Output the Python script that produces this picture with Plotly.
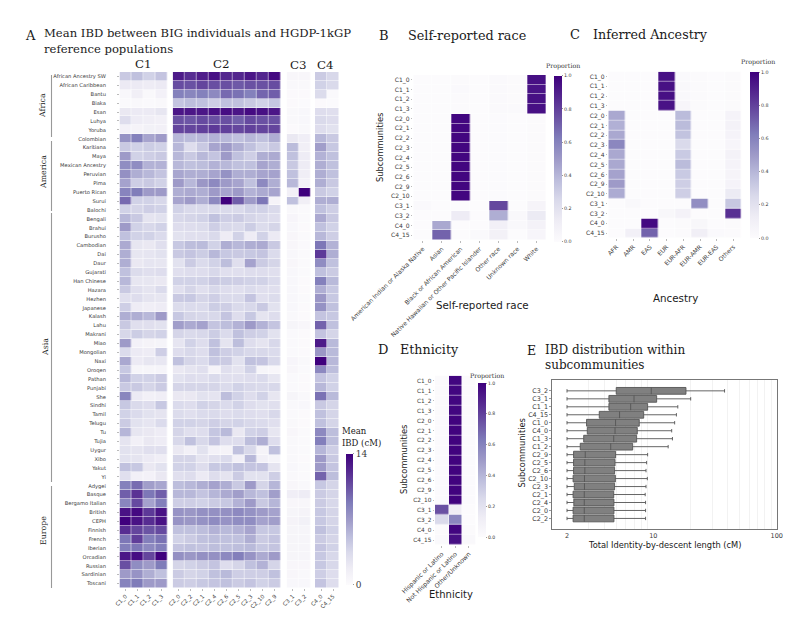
import plotly.graph_objects as go

W, H = 800, 625
SERIF = "DejaVu Serif"
SANS = "DejaVu Sans"
TXT = "#3a3a3a"

# panel A
populations = ["African Ancestry SW", "African Caribbean", "Bantu", "Biaka", "Esan", "Luhya", "Yoruba",
               "Colombian", "Karitiana", "Maya", "Mexican Ancestry", "Peruvian", "Pima", "Puerto Rican", "Surui",
               "Balochi", "Bengali", "Brahui", "Burusho", "Cambodian", "Dai", "Daur", "Gujarati", "Han Chinese",
               "Hazara", "Hezhen", "Japanese", "Kalash", "Lahu", "Makrani", "Miao", "Mongolian", "Naxi", "Oroqen",
               "Pathan", "Punjabi", "She", "Sindhi", "Tamil", "Telugu", "Tu", "Tujia", "Uygur", "Xibo", "Yakut", "Yi",
               "Adygei", "Basque", "Bergamo Italian", "British", "CEPH", "Finnish", "French", "Iberian", "Orcadian",
               "Russian", "Sardinian", "Toscani"]
c1_labels = ["C1_0", "C1_1", "C1_2", "C1_3"]
c2_labels = ["C2_0", "C2_2", "C2_1", "C2_4", "C2_6", "C2_5", "C2_3", "C2_10", "C2_9"]
c3_labels = ["C3_1", "C3_2"]
c4_labels = ["C4_0", "C4_15"]

c1_values = [
    [4.5, 5, 4, 4.8], [2, 2, 1.8, 2], [.5, 1.5, .4, 1.2], [.3, .4, .3, .4], [2.2, 2, 2, 2.4], [3.2, 1.8, 1.6, 1.4], [1.2, 1, 1.3, 1.4],
    [7.5, 8.5, 6.5, 7], [4.5, 4, 4.3, 4], [7, 4, 4.2, 4.5], [7.8, 7.8, 5.8, 5.8], [7.6, 6, 5.5, 4.8], [6.6, 4.2, 4.5, 4], [8.3, 8.7, 7, 7], [9.5, 4, 4, 3.6],
    [4, 3.8, 4.2, 4], [5.5, 4.5, 2.6, 2.8], [7, 4, 3.6, 4], [5, 4, 4, 3.4], [6.2, 2.4, 2.2, 3], [6, 2.4, 2.5, 2.8], [6, 2.2, 2.5, 2.4], [5, 3.3, 3, 3.2],
    [5.5, 2.4, 2.4, 2.2], [4.5, 3, 2.6, 3.4], [3, 3.2, 2.6, 2.4], [4.2, 1.8, 1.6, 1.8], [6, 6, 5.5, 7], [4.5, 3, 3, 2.8], [3.7, 4.3, 3.8, 4],
    [7, 1.2, 1, .9], [3.4, 2, 1.8, 4.2], [6.3, 2, 2.4, 2.3], [4.6, .8, .8, .9], [5.5, 4, 4, 4.4], [4.5, 4.5, 3.8, 4.4], [8.2, 2, 1.4, 1.6],
    [4.6, 3.5, 3.2, 4.6], [4, 3.4, 2.8, 2.6], [4.4, 2.8, 2.5, 3.4], [5.6, 2.4, 2.2, 1.8], [2.6, 1.4, 2.2, 1.8], [2.8, 2.6, 3, 3], [2.8, 2.6, 2, 1.6],
    [5, 4.6, 2.2, 2.8], [3, 1.4, 1.2, 2.2],
    [8.5, 9.4, 6.8, 6.4], [10, 11.8, 9, 10], [8.2, 10.8, 6.6, 8.6], [13.2, 13.6, 11.5, 13.2], [14, 13.2, 12, 13.2], [12, 11, 10.4, 10.8],
    [9, 11.3, 8.6, 9.2], [8.6, 9, 8, 8.6], [13, 13.4, 11, 14], [10.6, 7.8, 7, 8.8], [7, 7.4, 6, 5], [8.4, 8.8, 7, 7],
]
c2_values = [
    [12.8, 12, 12.7, 13.3, 12.3, 12.3, 13, 12.3, 13.6], [10.7, 10.5, 11, 10.6, 10.6, 10.2, 10.5, 10.5, 10.7],
    [8.5, 8.2, 8.5, 8, 9.5, 9.2, 8.5, 9.7, 10], [4.8, 5.2, 5, 4.2, 5, 5, 4.5, 4, 4.7],
    [13, 13, 13, 13.3, 13.4, 13, 13.5, 13.3, 13], [10.5, 10.3, 10.8, 10.5, 10.6, 9.9, 10.8, 10.5, 10.5],
    [11, 11, 11.2, 11.5, 11.2, 10.9, 11.2, 11, 11],
    [5.5, 5.3, 5.5, 5.8, 5.5, 5, 5.5, 5, 6], [5.5, 3.2, 4.5, 6.5, 7, 6, 5, 4, 4.5], [5.5, 4.5, 5.5, 4.8, 7, 5, 4.2, 6, 6.2],
    [5.5, 5, 5.2, 5.8, 5.5, 5, 5, 6.5, 6], [6.4, 6, 6, 6.5, 7.5, 6, 6, 6.5, 6.6], [7, 5.5, 7.2, 8, 7, 6.5, 5, 8, 6],
    [6, 6.2, 6, 7, 6.5, 7, 5.8, 6.2, 6.5], [6.5, 7, 6, 8, 14, 10, 7, 9, 1],
    [4, 3.5, 3.5, 3.5, 3.5, 3.5, 4, 4, 3.5], [3.6, 3.8, 4, 5, 4.2, 4.4, 3.8, 3.5, 3.2], [3.2, 3.2, 3.3, 4.2, 3.6, 3.5, 4.3, 3.3, 3.8],
    [2.8, 3, 3, 3.5, 1.8, 4, 1.8, 4, 2], [4.6, 5.2, 5.3, 4, 6, 5.5, 6, 6.2, 4.5], [4.5, 4.8, 4.3, 5.5, 4.6, 4.5, 4.6, 4.8, 3.4],
    [2.8, 4.4, 3.4, 4, 5.2, 3, 6.6, 4.4, 3.8], [3, 3.2, 3.2, 3.6, 3, 3, 3.2, 3.2, 3], [4, 4, 4, 4.5, 4.3, 4.2, 4, 4, 3.4],
    [3, 3.8, 3, 3.6, 3.2, 3, 3.4, 3, 3], [4.5, 4.6, 3.8, 4.2, 3.5, 3.5, 4.8, 3, 3.3], [3.3, 3.4, 3.4, 4.3, 4.2, 3.5, 3.6, 4.5, 2.8],
    [4.6, 3.8, 3.6, 3.6, 4.8, 3.2, 4.6, 2.6, 3.2], [6.8, 6.2, 6.6, 4.8, 5.2, 5.8, 7, 5.8, 4.8], [3.8, 3.5, 3.6, 4.3, 3.4, 5, 4.2, 4, 2.8],
    [2.5, 4, 3.2, 5, 2.6, 5.2, 3.2, 2.6, 3.6], [3.2, 3.6, 3.2, 5, 4.2, 4, 3.6, 3.6, 3.4], [5, 3.8, 3.4, 4.6, 4.4, 2.8, 5, 4.8, 3.6],
    [2.2, 2.6, 3, 1, 3, 2.6, 4, .8, .6], [2.8, 3.2, 3, 3.5, 3, 3, 3.2, 3.4, 2.4], [3.8, 3.8, 3.8, 3.8, 3.4, 4, 3.6, 3.5, 3.6],
    [2.2, 2.2, 2.8, 2.6, 5.2, 4, 3.2, 4, 2.4], [3.4, 3.2, 4, 3.8, 3.4, 4, 3.2, 2.8, 3], [3.3, 3, 3.4, 3.5, 3.2, 3.4, 3.2, 3, 3.6],
    [4, 4, 3.8, 4.2, 3.8, 4, 3.6, 3.4, 3], [3.8, 3, 3.2, 4.7, 5.4, 2.2, 4, 4.2, 2.4], [3.6, 5, 3.6, 4.8, 3.2, 3.2, 5.2, 6, 3.2],
    [2.2, 1.4, 2.8, 1.2, 1, 5, 3.6, 1, 5], [3.8, 3.8, 2.6, 3, 3.4, 1.4, 5.5, 1.4, .9], [4, 4, 3.2, 4.6, 4.6, 5, 4.8, 4.8, 2.6],
    [3, 3.2, 2, 3.2, 2.6, 4.4, 2.8, 2.8, 4.2],
    [5.2, 5.5, 6, 6.6, 6, 4.5, 7, 3.8, 5.6], [5.5, 5.5, 4.8, 5.6, 6.2, 6.8, 5.5, 5, 6.8], [4.2, 4.2, 4, 4.4, 4.6, 5.8, 7, 4.5, 5.6],
    [7.4, 7.2, 7.6, 7.6, 7.6, 8, 7.5, 7, 6.6], [7.4, 7.2, 7.5, 7.9, 7.4, 7.8, 7.8, 6.6, 6.8], [5, 5, 5.2, 5.8, 5.4, 5.8, 6.5, 4.6, 4.6],
    [4, 4.4, 5, 5.2, 5, 5, 6, 4.4, 4.8], [4.8, 5, 4.8, 5.2, 5, 5.2, 5.4, 4.6, 4.8], [7.6, 7.2, 7.6, 7.6, 8, 8.6, 7.4, 6.2, 7],
    [3.8, 4, 4.4, 4.8, 3.2, 3.8, 5, 5.8, 3.8], [4.4, 3.8, 4, 5, 5.4, 4.2, 4.2, 4.2, 5], [4.4, 4.2, 4.6, 4.8, 5, 4.4, 4.8, 4, 4.4],
]
c3_values = [
    [.6, .6], [.4, .4], [.2, .2], [.2, .1], [.4, .5], [.4, .5], [.2, .4],
    [2.2, 1.6], [5.3, 1.5], [5, 1.8], [4.5, 1.8], [5, 1.6], [5.5, 1.2], [1.4, 14], [5, 1.5],
    [.4, .3], [.7, .3], [.5, .2], [.6, .3], [.6, .3], [.5, .3], [.6, .3], [.5, .3], [.5, .2], [.5, .2], [.5, .3], [.5, .2], [.4, .2],
    [.8, .6], [.3, .2], [.3, .2], [.3, .2], [.7, .4], [.6, .3], [.3, .2], [.3, .2], [.8, .4], [.4, .5], [.3, .2], [.4, .2], [.6, .3],
    [.4, .3], [.4, .3], [.4, .2], [.5, .3], [.4, .3],
    [.6, .4], [1.6, 1.8], [.6, .6], [.8, 1], [1, 1.3], [.8, .8], [.8, .8], [.8, .8], [.8, .8], [.6, .6], [.6, .4], [.5, .5],
]
c4_values = [
    [4.4, 3.6], [4, 3.5], [3.3, .3], [.2, .1], [3.2, 3], [3.5, 3.2], [3.2, 2.8],
    [5.5, 4.5], [6.8, 4.6], [5.8, 5], [6, 5], [6, 5], [6, 4.5], [4.5, 4], [6, 6],
    [5, 4.2], [6.2, 4.5], [5, 4], [5.5, 4.2], [9, 5.8], [11.5, 6], [7.8, 5], [5, 4.4], [8.5, 5.4], [6, 4.6], [7.2, 4.6], [7.5, 5], [4.8, 4.6],
    [9.8, 5], [4.8, 3.8], [12.8, 5.4], [7.2, 5.4], [14, 5.5], [8, 5.2], [4.8, 4], [5.5, 4], [9.2, 5.4], [4.5, 3.8], [5, 3.8], [5, 3.8], [8, 5.2],
    [8.6, 5.2], [5.6, 4.2], [7, 4.5], [7, 4.8], [9.8, 5.2],
    [4.6, 3.8], [4.4, 3.8], [4.4, 3.6], [4.6, 3.8], [4.6, 3.8], [5, 4], [4.4, 3.8], [4.8, 4], [4.6, 3.6], [4.6, 3.6], [4.2, 3.2], [4.8, 3.2],
]

# panels B, C, D share the row order
subcommunities = ["C1_0", "C1_1", "C1_2", "C1_3", "C2_0", "C2_1", "C2_2", "C2_3", "C2_4", "C2_5", "C2_6",
                  "C2_9", "C2_10", "C3_1", "C3_2", "C4_0", "C4_15"]

race_labels = ["American Indian or Alaska Native", "Asian", "Black or African American",
               "Native Hawaiian or Other Pacific Islander", "Other race", "Unknown race", "White"]
race_values = [
    [0, 0, .01, 0, .02, .01, .95], [0, 0, .015, 0, .02, .01, .94], [0, 0, .01, 0, .02, .01, .95], [0, 0, .01, 0, .02, .015, .95],
    [0, 0, .98, 0, .005, 0, .01], [0, 0, .98, 0, .005, 0, .01], [0, 0, .98, 0, .005, 0, .01], [0, 0, .98, 0, .005, 0, .01],
    [0, 0, .98, 0, .005, 0, .01], [0, 0, .98, 0, .005, 0, .01], [0, 0, .98, 0, .005, 0, .01], [0, 0, .98, 0, .005, 0, .01],
    [0, 0, .98, 0, .005, 0, .01],
    [.02, 0, 0, 0, .78, 0, .06], [0, 0, .13, 0, .43, .03, .14], [0, .45, 0, 0, .1, .03, .08], [0, .7, 0, .02, .09, 0, .05],
]

ancestry_labels = ["AFR", "AMR", "EAS", "EUR", "EUR-AFR", "EUR-AMR", "EUR-EAS", "Others"]
ancestry_values = [
    [0, 0, 0, .95, .02, .01, 0, .01], [0, 0, 0, .95, .03, .01, 0, .01], [0, 0, 0, .95, .03, .01, 0, .01], [0, 0, 0, .94, .05, .01, 0, .01],
    [.45, 0, 0, 0, .38, 0, 0, .07], [.42, 0, 0, 0, .38, 0, 0, .08], [.45, 0, 0, 0, .35, 0, 0, .07], [.58, 0, 0, 0, .25, 0, 0, .05],
    [.45, 0, 0, 0, .32, 0, 0, .08], [.45, 0, 0, 0, .38, 0, 0, .07], [.47, 0, 0, 0, .32, 0, 0, .06], [.5, 0, 0, 0, .3, 0, 0, .07],
    [.44, 0, 0, 0, .3, 0, 0, .14],
    [0, .03, 0, 0, 0, .55, 0, .33], [0, 0, 0, .04, .08, 0, 0, .85], [0, 0, .97, 0, .01, .04, 0, .01], [0, .1, .7, 0, .01, .11, .02, .01],
]

ethnicity_labels = ["Hispanic or Latino", "Not Hispanic or Latino", "Other/Unknown"]
ethnicity_values = [
    [.01, .98, .01], [.01, .98, .01], [.01, .98, .01], [.01, .98, .01], [.005, .99, .005], [.005, .99, .005], [.005, .99, .005],
    [.005, .99, .005], [.005, .99, .005], [.005, .99, .005], [.005, .99, .005], [.005, .99, .005], [.005, .99, .005],
    [.75, .12, 0], [.25, .58, 0], [.01, .98, .01], [.02, .95, .03],
]

# panel E
box_labels = ["C3_2", "C3_1", "C1_1", "C4_15", "C1_0", "C4_0", "C1_3", "C1_2", "C2_9", "C2_5", "C2_6", "C2_10",
              "C2_3", "C2_1", "C2_4", "C2_0", "C2_2"]
box_low = [2.0] * 17
box_q1 = [5.01, 4.37, 4.37, 3.65, 2.88, 2.92, 2.73, 2.56, 2.26, 2.26, 2.26, 2.24, 2.29, 2.24, 2.27, 2.24, 2.24]
box_med = [9.63, 6.98, 6.56, 5.33, 4.95, 4.9, 4.78, 4.52, 2.81, 2.79, 2.79, 2.77, 2.77, 2.76, 2.76, 2.76, 2.76]
box_q3 = [18.4, 10.65, 9.0, 8.36, 7.7, 7.42, 7.33, 6.81, 4.95, 4.9, 4.86, 4.93, 4.86, 4.78, 4.8, 4.8, 4.8]
box_high = [37.8, 20.1, 15.8, 15.4, 14.9, 14.1, 14.3, 13.2, 9.0, 8.83, 8.73, 8.95, 8.73, 8.6, 8.66, 8.66, 8.66]


def px_x(x):
    return x / W


def px_y(y):
    return 1 - y / H


fig = go.Figure()
axis_count = 0


def add_heatmap(z, xlab, ylab, box, zmax, bar=None, show_y=True, xsize=5.5, ysize=6.5, gap=0.5):
    # box is left, right, top, bottom in pixels of the page
    global axis_count
    axis_count += 1
    n = "" if axis_count == 1 else str(axis_count)
    trace = go.Heatmap(z=z, x=xlab, y=ylab, xaxis="x" + n, yaxis="y" + n, colorscale="Purples",
                       zmin=0, zmax=zmax, xgap=gap, ygap=gap, showscale=bar is not None)
    if bar:
        trace.colorbar = dict(x=px_x(bar["x"]), xanchor="left", y=px_y(bar["top"]), yanchor="top",
                              len=(bar["bottom"] - bar["top"]) / H, thickness=bar["w"], outlinewidth=0, xpad=0, ypad=0,
                              tickvals=bar["ticks"], ticks="outside", ticklen=1.5, tickcolor="#999", tickformat=bar["fmt"],
                              tickfont=dict(family=bar["font"], size=bar["size"], color=TXT))
    fig.add_trace(trace)
    fig.update_layout({
        "xaxis" + n: dict(domain=[px_x(box[0]), px_x(box[1])], anchor="y" + n, type="category", tickangle=-45, dtick=1,
                          tickfont=dict(family=SANS, size=xsize, color=TXT), ticks="outside", ticklen=2,
                          tickcolor="#bbb", showgrid=False, zeroline=False, showline=False, automargin=False),
        "yaxis" + n: dict(domain=[px_y(box[3]), px_y(box[2])], anchor="x" + n, type="category", autorange="reversed", dtick=1,
                          tickfont=dict(family=SANS, size=ysize, color=TXT), ticks="outside" if show_y else "",
                          ticklen=1.5, tickcolor="#bbb", showticklabels=show_y, showgrid=False, zeroline=False,
                          showline=False, automargin=False),
    })


top_a, bottom_a = 72, 588
add_heatmap(c1_values, c1_labels, populations, (119.5, 167.7, top_a, bottom_a), 14, ysize=5.2)
fig.update_layout(yaxis=dict(ticklabelstandoff=10))
add_heatmap(c2_values, c2_labels, populations, (172.7, 281, top_a, bottom_a), 14, show_y=False)
add_heatmap(c3_values, c3_labels, populations, (286.7, 310.7, top_a, bottom_a), 14, show_y=False)
add_heatmap(c4_values, c4_labels, populations, (315, 339, top_a, bottom_a), 14, show_y=False,
            bar=dict(x=346, top=453.5, bottom=584, w=6.5, ticks=[0, 14], fmt="d", font=SERIF, size=9))

add_heatmap(race_values, race_labels, subcommunities, (413.3, 546, 75, 240), 1, xsize=6.1, ysize=6,
            bar=dict(x=554, top=75.7, bottom=241.7, w=8, ticks=[0, .2, .4, .6, .8, 1], fmt=".1f", font=SANS, size=4.8))
add_heatmap(ancestry_values, ancestry_labels, subcommunities, (608.3, 741.7, 71.7, 238), 1, xsize=6.1, ysize=6,
            bar=dict(x=750, top=72, bottom=238, w=8.5, ticks=[0, .2, .4, .6, .8, 1], fmt=".1f", font=SANS, size=4.8))
add_heatmap(ethnicity_values, ethnicity_labels, subcommunities, (435, 475.7, 375.7, 545), 1, xsize=6.2, ysize=5.8,
            bar=dict(x=478.3, top=383, bottom=537, w=7.5, ticks=[0, .2, .4, .6, .8, 1], fmt=".1f", font=SANS, size=4.6))

# box plot, summary stats
fig.add_trace(go.Box(y=box_labels, q1=box_q1, median=box_med, q3=box_q3, lowerfence=box_low, upperfence=box_high,
                     orientation="h", xaxis="x8", yaxis="y8", fillcolor="#808080", boxpoints=False,
                     line=dict(color="#555555", width=0.9), width=0.85, whiskerwidth=0.5, showlegend=False))
fig.update_layout(
    xaxis8=dict(domain=[px_x(551.7), px_x(776.7)], anchor="y8", type="log", range=[0.177, 2], tickvals=[2, 10, 100],
                ticktext=["2", "10", "100"], tickfont=dict(family=SANS, size=6.5, color=TXT), ticks="",
                showline=True, mirror=True, linecolor="#777", linewidth=0.8, zeroline=False, showgrid=False,
                automargin=False,
                minor=dict(tickvals=[3, 4, 5, 6, 7, 8, 9, 20, 30, 40, 50, 60, 70, 80, 90], showgrid=True,
                           gridcolor="#f2f2f2", gridwidth=0.6, ticks="")),
    yaxis8=dict(domain=[px_y(529.3), px_y(380)], anchor="x8", type="category", categoryorder="array", dtick=1,
                categoryarray=box_labels, autorange="reversed", tickfont=dict(family=SANS, size=6.4, color=TXT),
                ticks="outside", ticklen=1.5, tickcolor="#999", showline=True, mirror=True, linecolor="#777",
                linewidth=0.8, showgrid=False, zeroline=False, automargin=False),
)


def text(x, y, s, size, family=SERIF, color="#1a1a1a", anchor="left", angle=0):
    if anchor == "left":
        x -= 2  # annotation box has a small inner pad
    fig.add_annotation(x=px_x(x), y=px_y(y), xref="paper", yref="paper", text=s, showarrow=False, xanchor=anchor,
                       yanchor="middle", textangle=angle, align="left",
                       font=dict(family=family, size=size, color=color))


text(25, 36, "A", 13)
text(44, 33.5, "Mean IBD between BIG individuals and HGDP-1kGP", 11.6)
text(44, 48.5, "reference populations", 11.6)
text(143, 64, "C1", 11.8, anchor="center")
text(221, 64, "C2", 11.8, anchor="center")
text(298, 65, "C3", 11.8, anchor="center")
text(325, 65, "C4", 11.8, anchor="center")
text(341.5, 431, "Mean", 8.5)
text(341.5, 443, "IBD (cM)", 8.5)

text(43, 106, "Africa", 7.8, anchor="center", angle=-90)
text(43, 172, "America", 7.8, anchor="center", angle=-90)
text(45, 347, "Asia", 7.8, anchor="center", angle=-90)
text(43, 531, "Europe", 7.8, anchor="center", angle=-90)
for y0, y1 in [(75, 137), (141, 211), (213, 482), (486, 588)]:
    fig.add_shape(type="line", xref="paper", yref="paper", x0=px_x(51.5), x1=px_x(51.5), y0=px_y(y0), y1=px_y(y1),
                  line=dict(color="#999999", width=1.1))

text(379, 36, "B", 13)
text(407.5, 36, "Self-reported race", 12.8)
text(380, 148, "Subcommunities", 8.3, family=SANS, anchor="center", angle=-90)
text(482, 305, "Self-reported race", 10.3, family=SANS, anchor="center")
text(562.5, 65.5, "Proportion", 6.3, anchor="center", color="#333")

text(570, 34, "C", 13)
text(592.5, 34, "Inferred Ancestry", 12.7)
text(675, 298, "Ancestry", 10.3, family=SANS, anchor="center")
text(758, 62, "Proportion", 6.3, anchor="center", color="#333")

text(378, 349, "D", 13)
text(400, 349, "Ethnicity", 12.7)
text(404, 460, "Subcommunities", 8.3, family=SANS, anchor="center", angle=-90)
text(451, 594, "Ethnicity", 10, family=SANS, anchor="center")
text(486.5, 375.5, "Proportion", 6.3, anchor="center", color="#333")

text(526.5, 350, "E", 12.5)
text(544.5, 350, "IBD distribution within", 12)
text(544.5, 365, "subcommunities", 12)
text(521.5, 453, "Subcommunities", 8.3, family=SANS, anchor="center", angle=-90)
text(664, 545, "Total Identity-by-descent length (cM)", 8.3, family=SANS, anchor="center")

fig.update_layout(width=W, height=H, margin=dict(l=0, r=0, t=0, b=0, autoexpand=False), paper_bgcolor="white",
                  plot_bgcolor="white", showlegend=False)
fig.write_html("out.html", post_script="document.body.style.margin='0';", config=dict(displayModeBar=False))
